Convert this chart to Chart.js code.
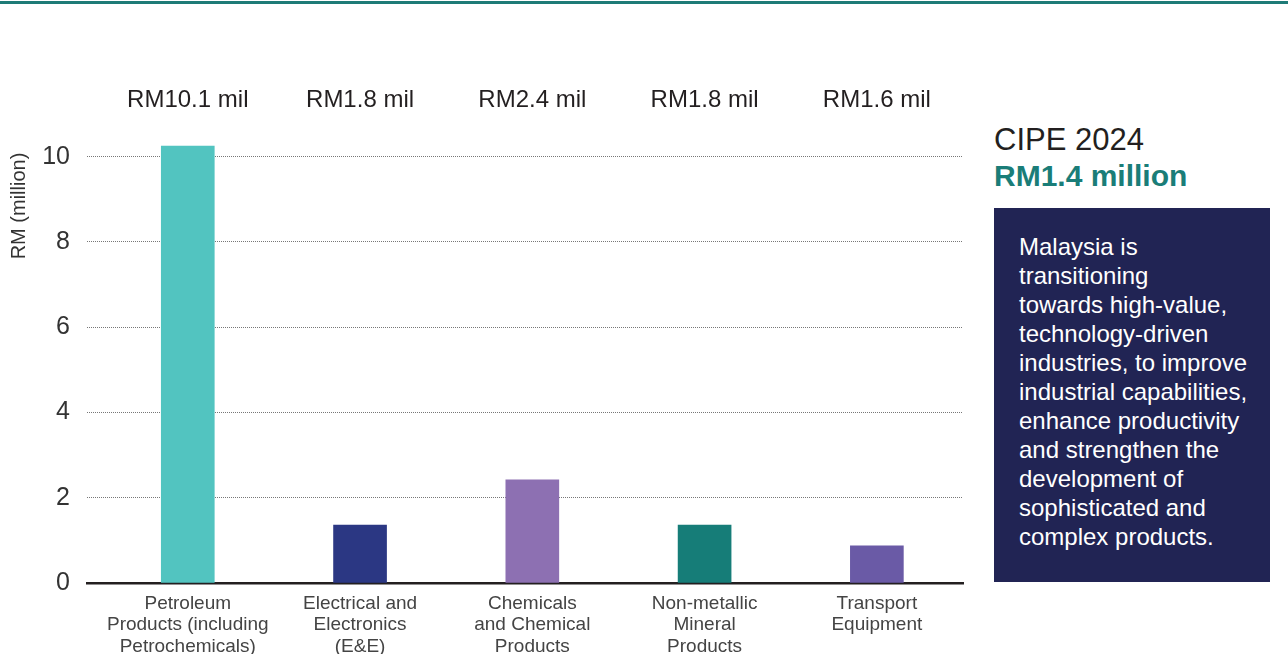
<!DOCTYPE html>
<html>
<head>
<meta charset="utf-8">
<script src="https://cdn.jsdelivr.net/npm/chart.js@4/dist/chart.umd.min.js"></script>
<style>
  body { margin: 0; background: #fff; font-family: "Liberation Sans", Arial, sans-serif; }
  #rule { position: absolute; left: 0; top: 1px; width: 1288px; height: 3px; background: #1e7b77; }
  #wrap { position: absolute; left: 0; top: 0; width: 980px; height: 654px; }
  #side { position: absolute; left: 994px; top: 121px; width: 290px; }
  #side .t1 { font-size: 31px; color: #231f20; line-height: 38px; }
  #side .t2 { font-size: 30px; color: #1a7d78; font-weight: bold; line-height: 34px; }
  #box { position: absolute; left: 994px; top: 208px; width: 276px; height: 374px; background: #212454;
         color: #fff; box-sizing: border-box; padding: 24px 0 0 25px; font-size: 24px; line-height: 29px; white-space: nowrap; }
</style>
</head>
<body>
<div id="rule"></div>
<div id="wrap"><canvas id="canvas"></canvas></div>
<div id="side">
  <div class="t1">CIPE 2024</div>
  <div class="t2">RM1.4 million</div>
</div>
<div id="box">Malaysia is<br>transitioning<br>towards high-value,<br>technology-driven<br>industries, to improve<br>industrial capabilities,<br>enhance productivity<br>and strengthen the<br>development of<br>sophisticated and<br>complex products.</div>
<script>
const categories = [
    ['Petroleum', 'Products (including', 'Petrochemicals)'],
    ['Electrical and', 'Electronics', '(E&E)'],
    ['Chemicals', 'and Chemical', 'Products'],
    ['Non-metallic', 'Mineral', 'Products'],
    ['Transport', 'Equipment']
];
const values = [10.25, 1.36, 2.42, 1.36, 0.87];
const valueLabels = ['RM10.1 mil', 'RM1.8 mil', 'RM2.4 mil', 'RM1.8 mil', 'RM1.6 mil'];
const colors = ['#52c4c0', '#2b3783', '#8d70b2', '#167d78', '#6a5aa6'];
const yTicks = [0, 2, 4, 6, 8, 10];

const FONT = '"Liberation Sans", Arial, sans-serif';
const canvas = document.getElementById('canvas');
const ctx = canvas.getContext('2d');

// value labels above the plot + y title near the top
const extras = {
    id: 'extras',
    afterDraw(chart) {
        const c = chart.ctx;
        const xs = chart.scales.x;
        c.save();
        c.fillStyle = '#231f20';
        c.font = '24px ' + FONT;
        c.textAlign = 'center';
        c.textBaseline = 'middle';
        valueLabels.forEach((l, i) => c.fillText(l, xs.getPixelForValue(i), 100));
        c.translate(19, 206);
        c.rotate(-Math.PI / 2);
        c.fillStyle = '#333';
        c.font = '20px ' + FONT;
        c.fillText('RM (million)', 0, 0);
        c.restore();
    }
};

new Chart(ctx, {
    type: 'bar',
    data: {
        datasets: [{
            data: values.map((v, i) => ({ x: i, y: v })),
            backgroundColor: colors,
            barThickness: 53
        }]
    },
    options: {
        responsive: true,
        maintainAspectRatio: false,
        animation: false,
        layout: { padding: { top: 114, right: 17, left: 0, bottom: 0 } },
        plugins: { legend: { display: false }, tooltip: { enabled: false } },
        scales: {
            x: {
                type: 'linear',
                offset: false,
                min: -0.585,
                max: 4.5,
                afterBuildTicks: s => { s.ticks = categories.map((c, i) => ({ value: i })); },
                afterFit: s => { s.height = 71; },
                grid: { display: false },
                border: { display: true, color: '#231f20', width: 2.5 },
                ticks: {
                    callback: (v) => categories[v],
                    color: '#444',
                    font: { family: FONT, size: 19, lineHeight: 1.13 },
                    padding: 2,
                    maxRotation: 0,
                    autoSkip: false
                }
            },
            y: {
                min: 0,
                max: 11,
                afterBuildTicks: s => { s.ticks = yTicks.map(v => ({ value: v })); },
                afterFit: s => { s.width = 87; },
                grid: {
                    color: ctx => ctx.tick && ctx.tick.value === 0 ? 'rgba(0,0,0,0)' : '#777',
                    lineWidth: 1,
                    drawTicks: false
                },
                border: { display: false, dash: [1, 1] },
                ticks: {
                    color: '#333',
                    font: { family: FONT, size: 25 },
                    padding: 17
                }
            }
        }
    },
    plugins: [extras]
});
</script>
</body>
</html>
